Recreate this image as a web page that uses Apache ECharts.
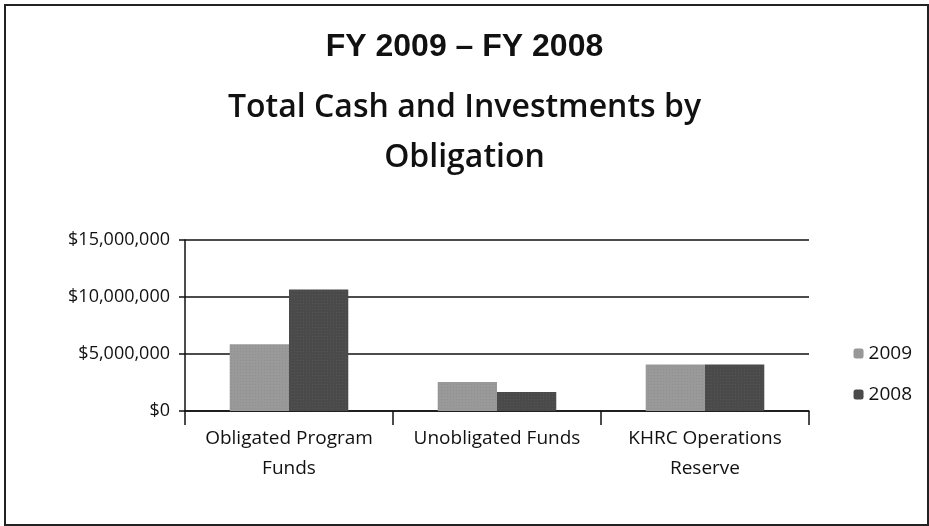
<!DOCTYPE html>
<html>
<head>
<meta charset="utf-8">
<script src="https://cdn.jsdelivr.net/npm/echarts@6/dist/echarts.min.js"></script>
<style>
  html, body { margin: 0; padding: 0; background: #fff; }
  #chart { width: 929px; height: 526px; }
</style>
</head>
<body>
<div id="chart"></div>
<script>
// data
var categories = ['Obligated Program\nFunds', 'Unobligated Funds', 'KHRC Operations\nReserve'];
var fy2009 = [5850000, 2550000, 4070000];
var fy2008 = [10650000, 1670000, 4070000];
var yTicks = [0, 5000000, 10000000, 15000000];

var chart = echarts.init(document.getElementById('chart'));

function money(v) {
  return '$' + v.toLocaleString('en-US');
}

var option = {
  animation: false,
  graphic: [{
    type: 'rect',
    shape: { x: 5, y: 5, width: 923, height: 520 },
    style: { fill: 'none', stroke: '#222', lineWidth: 2 }
  }],
  title: [{
    text: 'FY 2009 \u2013 FY 2008',
    left: 'center',
    top: 26,
    textStyle: { fontFamily: 'Liberation Sans', fontWeight: 'bold', fontSize: 32, color: '#111' }
  }, {
    text: 'Total Cash and Investments by\nObligation',
    left: 'center',
    top: 78,
    textStyle: { fontFamily: 'Open Sans', fontWeight: 600, fontSize: 32, lineHeight: 50, color: '#111' }
  }],
  legend: {
    orient: 'vertical',
    right: 12,
    top: 339,
    itemGap: 22,
    itemWidth: 10,
    itemHeight: 10,
    textStyle: { fontFamily: 'Open Sans', fontSize: 19, color: '#111' },
    data: ['2009', '2008']
  },
  grid: { left: 185, right: 120, top: 240, bottom: 115 },
  xAxis: {
    type: 'category',
    data: categories,
    axisLine: { lineStyle: { color: '#111', width: 1.5 } },
    axisTick: { show: true, length: 14, lineStyle: { color: '#111', width: 1.5 } },
    axisLabel: { interval: 0, hideOverlap: false, fontFamily: 'Open Sans', fontSize: 19, color: '#111', margin: 13, lineHeight: 30 }
  },
  yAxis: {
    type: 'value',
    min: 0,
    max: yTicks[yTicks.length - 1],
    interval: 5000000,
    axisLine: { show: true, lineStyle: { color: '#111', width: 1.5 } },
    axisTick: { show: true, length: 6, lineStyle: { color: '#111', width: 1.5 } },
    splitLine: { lineStyle: { color: '#111', width: 1.5 } },
    axisLabel: { fontFamily: 'Open Sans', fontSize: 18, color: '#111', margin: 15, formatter: money }
  },
  series: [{
    name: '2009',
    type: 'bar',
    data: fy2009,
    barGap: '0%',
    barCategoryGap: '43%',
    itemStyle: {
      color: '#999999',
      decal: { symbol: 'rect', symbolSize: 0.5, dashArrayX: [1, 2], dashArrayY: [1, 2], color: 'rgba(50,50,50,0.4)' }
    }
  }, {
    name: '2008',
    type: 'bar',
    data: fy2008,
    itemStyle: {
      color: '#4a4a4a',
      decal: { symbol: 'rect', symbolSize: 0.5, dashArrayX: [1, 2], dashArrayY: [1, 2], color: 'rgba(230,230,230,0.3)' }
    }
  }]
};

chart.setOption(option);
</script>
</body>
</html>
